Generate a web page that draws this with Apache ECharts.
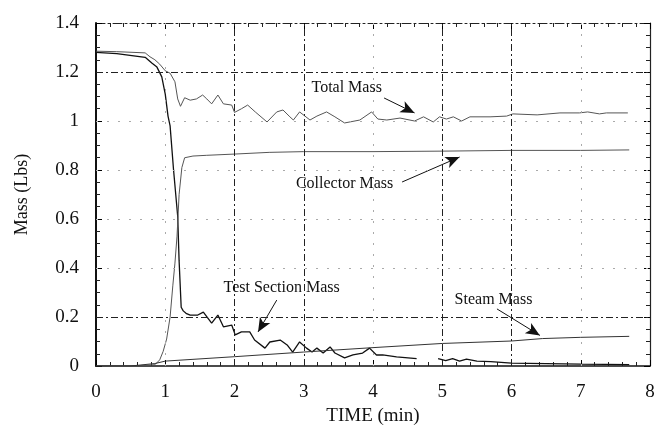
<!DOCTYPE html>
<html>
<head>
<meta charset="utf-8">
<script src="https://cdn.jsdelivr.net/npm/echarts@6/dist/echarts.min.js"></script>
<style>
html,body{margin:0;padding:0;background:#fff;}
#chart{width:656px;height:428px;}
</style>
</head>
<body>
<div id="chart"></div>
<script>
// ---- data ----
var xTicks = [0, 1, 2, 3, 4, 5, 6, 7, 8];
var yTicks = [0, 0.2, 0.4, 0.6, 0.8, 1, 1.2, 1.4];

var totalX = [0, 0.3, 0.71, 0.78, 0.85, 0.92, 1.0, 1.07, 1.14, 1.18, 1.22, 1.28, 1.36, 1.45, 1.54, 1.6, 1.67, 1.76, 1.84, 1.96, 2.0, 2.1, 2.19, 2.3, 2.47, 2.61, 2.7, 2.8, 2.85, 2.94, 3.09, 3.19, 3.33, 3.45, 3.59, 3.81, 3.98, 4.07, 4.2, 4.39, 4.6, 4.73, 4.87, 4.96, 5.06, 5.16, 5.28, 5.4, 5.69, 5.93, 6.02, 6.37, 6.7, 6.98, 7.1, 7.27, 7.37, 7.68];
var totalY = [1.285, 1.283, 1.278, 1.262, 1.25, 1.232, 1.205, 1.195, 1.16, 1.09, 1.06, 1.095, 1.085, 1.09, 1.106, 1.09, 1.07, 1.106, 1.07, 1.065, 1.035, 1.05, 1.065, 1.037, 0.996, 1.037, 1.045, 1.017, 1.004, 1.037, 1.004, 1.02, 1.037, 1.017, 0.992, 1.004, 1.037, 1.008, 1.004, 1.012, 1.0, 1.017, 0.996, 1.017, 1.008, 1.017, 1.0, 1.017, 1.017, 1.02, 1.029, 1.025, 1.033, 1.033, 1.037, 1.029, 1.033, 1.033];

var testX = [0, 0.3, 0.71, 0.81, 0.88, 0.95, 1.0, 1.04, 1.07, 1.12, 1.18, 1.2, 1.23, 1.26, 1.3, 1.36, 1.47, 1.55, 1.67, 1.76, 1.84, 1.96, 2.01, 2.1, 2.22, 2.29, 2.44, 2.51, 2.66, 2.76, 2.84, 2.94, 3.04, 3.12, 3.19, 3.28, 3.38, 3.45, 3.59, 3.71, 3.85, 3.95, 4.05, 4.14, 4.34, 4.63, 4.8, 4.94, 5.05, 5.15, 5.25, 5.35, 5.5, 5.7, 6.0, 6.5, 7.0, 7.7];
var testY = [1.28, 1.275, 1.26, 1.236, 1.22, 1.18, 1.11, 1.02, 0.98, 0.8, 0.61, 0.43, 0.24, 0.225, 0.215, 0.208, 0.208, 0.22, 0.175, 0.208, 0.16, 0.167, 0.127, 0.139, 0.139, 0.106, 0.073, 0.098, 0.106, 0.086, 0.057, 0.098, 0.073, 0.057, 0.073, 0.053, 0.078, 0.053, 0.033, 0.045, 0.053, 0.073, 0.045, 0.045, 0.037, 0.03, null, 0.03, 0.022, 0.03, 0.02, 0.028, 0.02, 0.018, 0.012, 0.01, 0.008, 0.006];

var collX = [0, 0.5, 0.85, 0.92, 0.97, 1.02, 1.07, 1.11, 1.14, 1.17, 1.2, 1.24, 1.28, 1.4, 1.6, 2.0, 2.5, 3.0, 4.0, 5.0, 6.0, 7.0, 7.7];
var collY = [0, 0, 0.005, 0.025, 0.06, 0.11, 0.2, 0.33, 0.42, 0.53, 0.7, 0.81, 0.85, 0.857, 0.86, 0.865, 0.872, 0.875, 0.875, 0.877, 0.88, 0.88, 0.882];

var steamX = [0, 0.5, 0.85, 1.0, 2.0, 3.0, 4.0, 5.0, 6.0, 6.45, 7.0, 7.7];
var steamY = [0, 0, 0.01, 0.02, 0.038, 0.057, 0.075, 0.092, 0.102, 0.112, 0.117, 0.121];

// annotation labels and arrows (data coordinates)
var labelNames = ['Total Mass', 'Collector Mass', 'Test Section Mass', 'Steam Mass'];
var labelX = [3.62, 3.59, 2.68, 5.74];
var labelY = [1.135, 0.743, 0.318, 0.269];
var arrowFromX = [4.16, 4.42, 2.61, 5.79];
var arrowFromY = [1.094, 0.751, 0.269, 0.233];
var arrowToX = [4.60, 5.25, 2.34, 6.41];
var arrowToY = [1.033, 0.853, 0.139, 0.125];

// grid lines
var gridX = [1, 2, 3, 4, 5, 6, 7];
var gridXStrong = [2, 3, 5, 6];
var gridY = [0.2, 0.4, 0.6, 0.8, 1, 1.2];
var gridYStrong = [0.2, 1.2];

// ---- build ----
function pairs(xs, ys) {
  return xs.map(function (x, i) { return [x, ys[i] === null ? '-' : ys[i]]; });
}
var FONT = '"Liberation Serif", "DejaVu Serif", serif';
var strongStyle = { color: '#222', width: 1, type: [7, 3, 2, 3] };
var faintStyle = { color: '#aaa', width: 1, type: [2, 9] };

var gridLines = [];
gridX.forEach(function (v) {
  gridLines.push({ xAxis: v, lineStyle: gridXStrong.indexOf(v) >= 0 ? strongStyle : faintStyle });
});
gridY.forEach(function (v) {
  gridLines.push({ yAxis: v, lineStyle: gridYStrong.indexOf(v) >= 0 ? strongStyle : faintStyle });
});

var arrows = labelNames.map(function (n, i) {
  return [
    { coord: [arrowFromX[i], arrowFromY[i]], symbol: 'none' },
    { coord: [arrowToX[i], arrowToY[i]], symbol: 'arrow', symbolSize: [9, 14] }
  ];
});
var labels = labelNames.map(function (n, i) {
  return { name: n, coord: [labelX[i], labelY[i]] };
});

var axisFont = { fontFamily: FONT, fontSize: 19, color: '#111' };

function makeAxis(extra, minorSplit, lineStyle) {
  return Object.assign({
    type: 'value',
    axisLine: { show: true, onZero: false, lineStyle: lineStyle },
    axisTick: { show: true, inside: true, length: 6, lineStyle: { color: '#000', width: 1 } },
    minorTick: { show: true, splitNumber: minorSplit, length: 4, lineStyle: { color: '#222', width: 1 } },
    splitLine: { show: false },
    minorSplitLine: { show: false }
  }, extra);
}

var option = {
  animation: false,
  grid: { left: 96, right: 6, top: 23, bottom: 62, outerBoundsMode: 'none' },
  xAxis: [
    makeAxis({
      position: 'bottom', min: 0, max: 8, interval: 1,
      axisLabel: Object.assign({ margin: 17 }, axisFont),
      name: 'TIME (min)', nameLocation: 'middle', nameGap: 37,
      nameTextStyle: Object.assign({}, axisFont)
    }, 5, { color: '#111', width: 1.5 }),
    makeAxis({
      position: 'top', min: 0, max: 8, interval: 1,
      axisLabel: { show: false }
    }, 5, { color: '#222', width: 1, type: [9, 3, 2, 3] })
  ],
  yAxis: [
    makeAxis({
      position: 'left', min: 0, max: 1.4, interval: 0.2,
      axisLabel: Object.assign({ margin: 17 }, axisFont),
      name: 'Mass (Lbs)', nameLocation: 'middle', nameGap: 65,
      nameTextStyle: Object.assign({}, axisFont, { fontSize: 18 })
    }, 4, { color: '#111', width: 2 }),
    makeAxis({
      position: 'right', min: 0, max: 1.4, interval: 0.2,
      axisLabel: { show: false }
    }, 4, { color: '#222', width: 1.2 })
  ],
  series: [
    {
      name: 'Total Mass', type: 'line', data: pairs(totalX, totalY), showSymbol: false,
      lineStyle: { color: '#555', width: 1 },
      markLine: {
        silent: true, label: { show: false }, animation: false,
        lineStyle: { color: '#111', width: 1, type: 'solid' },
        data: arrows
      },
      markPoint: {
        silent: true, symbol: 'circle', symbolSize: 0, animation: false,
        label: { show: true, position: 'inside', formatter: '{b}', fontFamily: FONT, fontSize: 16, color: '#111' },
        data: labels
      }
    },
    {
      name: 'Test Section Mass', type: 'line', data: pairs(testX, testY), showSymbol: false,
      connectNulls: false, lineStyle: { color: '#111', width: 1.3 }
    },
    {
      name: 'Collector Mass', type: 'line', data: pairs(collX, collY), showSymbol: false,
      lineStyle: { color: '#555', width: 1 }
    },
    {
      name: 'Steam Mass', type: 'line', data: pairs(steamX, steamY), showSymbol: false,
      lineStyle: { color: '#333', width: 1 },
      markLine: { silent: true, symbol: 'none', label: { show: false }, data: gridLines, animation: false }
    }
  ]
};

var chart = echarts.init(document.getElementById('chart'), null, { renderer: 'canvas' });
chart.setOption(option);
</script>
</body>
</html>
